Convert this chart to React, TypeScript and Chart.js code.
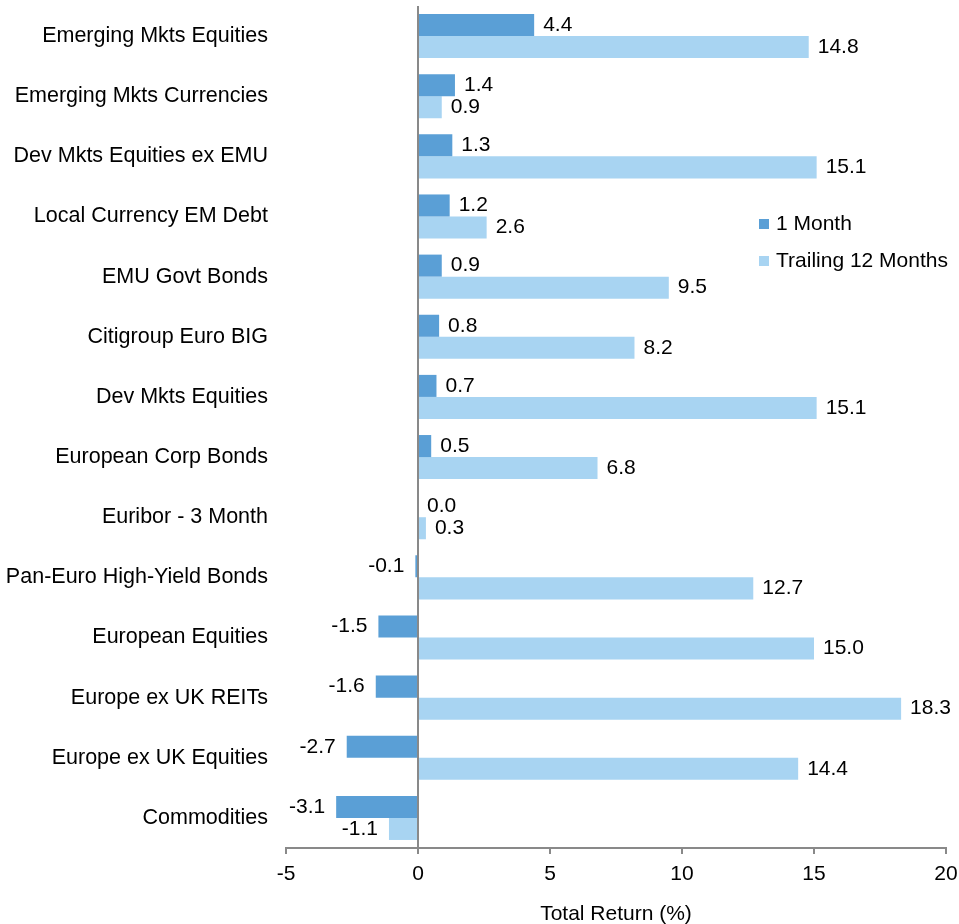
import React, { useEffect, useRef } from "react";
import { Chart, registerables } from "chart.js";

Chart.register(...registerables);

const categories = [
  "Emerging Mkts Equities",
  "Emerging Mkts Currencies",
  "Dev Mkts Equities ex EMU",
  "Local Currency EM Debt",
  "EMU Govt Bonds",
  "Citigroup Euro BIG",
  "Dev Mkts Equities",
  "European Corp Bonds",
  "Euribor - 3 Month",
  "Pan-Euro High-Yield Bonds",
  "European Equities",
  "Europe ex UK REITs",
  "Europe ex UK Equities",
  "Commodities",
];

const oneMonth = [4.4, 1.4, 1.3, 1.2, 0.9, 0.8, 0.7, 0.5, 0.0, -0.1, -1.5, -1.6, -2.7, -3.1];
const trailing12 = [14.8, 0.9, 15.1, 2.6, 9.5, 8.2, 15.1, 6.8, 0.3, 12.7, 15.0, 18.3, 14.4, -1.1];

const seriesNames = ["1 Month", "Trailing 12 Months"];
const xTicks = { min: -5, max: 20, step: 5 };
const axisTitle = "Total Return (%)";

const DARK = "#5A9FD6";
const LIGHT = "#A8D4F2";
const GRAY = "#898989";
const FONT = "'Liberation Sans', Arial, sans-serif";
const FS = 21;

const valueLabels = {
  id: "valueLabels",
  afterDatasetsDraw(chart: any) {
    const ctx = chart.ctx;
    ctx.save();
    ctx.font = `${FS}px ${FONT}`;
    ctx.fillStyle = "#000";
    ctx.textBaseline = "middle";
    chart.data.datasets.forEach((ds: any, di: number) => {
      const meta = chart.getDatasetMeta(di);
      meta.data.forEach((el: any, i: number) => {
        const v = ds.data[i];
        const txt = v.toFixed(1);
        if (v < 0) {
          ctx.textAlign = "right";
          ctx.fillText(txt, el.x - 11, el.y);
        } else {
          ctx.textAlign = "left";
          ctx.fillText(txt, el.x + 9, el.y);
        }
      });
    });
    ctx.restore();
  },
};

const customLegend = {
  id: "customLegend",
  afterDraw(chart: any) {
    const ctx = chart.ctx;
    ctx.save();
    ctx.font = `${FS}px ${FONT}`;
    ctx.textBaseline = "middle";
    ctx.textAlign = "left";
    const colors = [DARK, LIGHT];
    const ys = [224, 261];
    seriesNames.forEach((name, i) => {
      ctx.fillStyle = colors[i];
      ctx.fillRect(759, ys[i] - 5, 10, 10);
      ctx.fillStyle = "#000";
      ctx.fillText(name, 776, ys[i]);
    });
    ctx.restore();
  },
};

export default function App() {
  const ref = useRef<HTMLCanvasElement>(null);
  useEffect(() => {
    document.body.style.margin = "0";
    if (!ref.current) return;
    const chart = new Chart(ref.current, {
      type: "bar",
      data: {
        labels: categories,
        datasets: [
          { label: seriesNames[0], data: oneMonth, backgroundColor: DARK, categoryPercentage: 0.733, barPercentage: 1 },
          { label: seriesNames[1], data: trailing12, backgroundColor: LIGHT, categoryPercentage: 0.733, barPercentage: 1 },
        ],
      },
      options: {
        indexAxis: "y",
        animation: false,
        responsive: true,
        maintainAspectRatio: false,
        layout: { padding: { top: 6, right: 13, left: 0, bottom: 0 } },
        plugins: { legend: { display: false }, tooltip: { enabled: false } },
        scales: {
          x: {
            min: xTicks.min,
            max: xTicks.max,
            ticks: { stepSize: xTicks.step, color: "#000", font: { family: FONT, size: FS }, padding: 8 },
            grid: {
              color: (c: any) => (c.tick && c.tick.value === 0 ? GRAY : "rgba(0,0,0,0)"),
              lineWidth: 2,
              drawTicks: true,
              tickLength: 6,
              tickColor: GRAY,
              tickWidth: 2,
            },
            border: { display: true, color: GRAY, width: 2 },
            title: { display: true, text: axisTitle, color: "#000", font: { family: FONT, size: FS }, padding: { top: 0, bottom: -3 } },
            afterFit: (s: any) => {
              s.height = 76;
              s.paddingLeft = 0;
              s.paddingRight = 0;
            },
          },
          y: {
            ticks: { color: "#000", font: { family: FONT, size: 21.5 }, padding: 18 },
            grid: { display: false, drawTicks: false },
            border: { display: false },
            afterFit: (s: any) => {
              s.width = 286;
              s.paddingTop = 0;
              s.paddingBottom = 0;
            },
          },
        },
      },
      plugins: [valueLabels, customLegend],
    });
    return () => chart.destroy();
  }, []);
  return (
    <div style={{ position: "fixed", left: 0, top: 0, width: 959, height: 924 }}>
      <canvas ref={ref} />
    </div>
  );
}
